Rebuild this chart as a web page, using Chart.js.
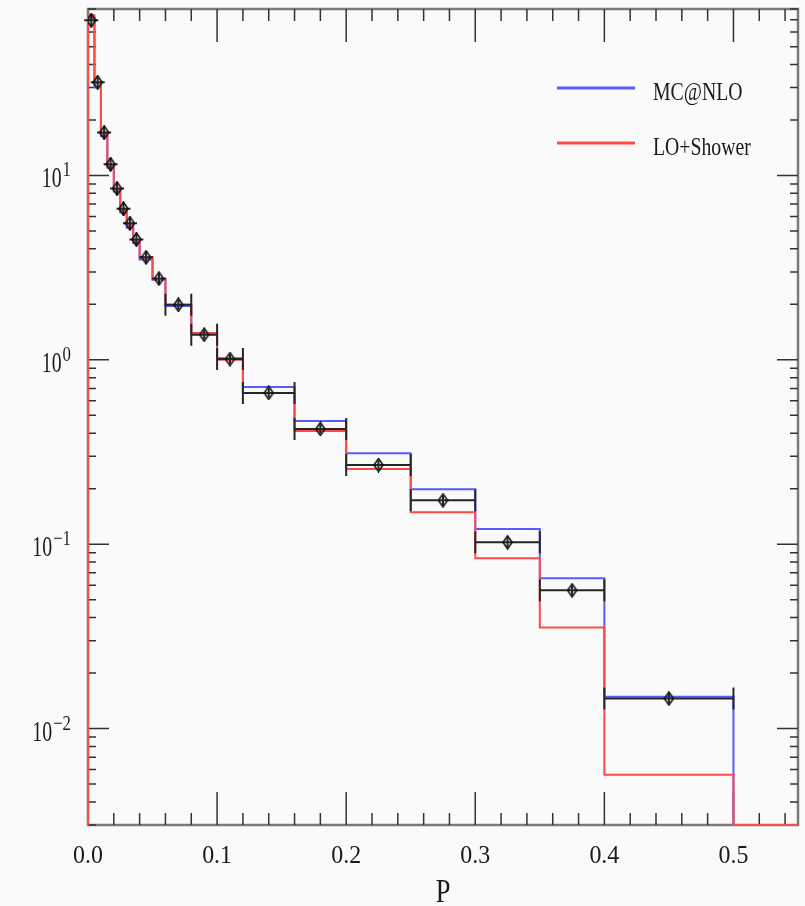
<!DOCTYPE html>
<html>
<head>
<meta charset="utf-8">
<script src="https://cdn.jsdelivr.net/npm/chart.js@4.4.1/dist/chart.umd.min.js"></script>
<style>
  body { margin: 0; background: #fafafa; }
</style>
</head>
<body>
<canvas id="myChart" width="805" height="906"></canvas>
<script>
// bin edges in P, and the per-bin values
var EDGES = [0, 0.005, 0.01, 0.015, 0.02, 0.025, 0.03, 0.035, 0.04, 0.05, 0.06,
             0.08, 0.1, 0.12, 0.16, 0.2, 0.25, 0.3, 0.35, 0.4, 0.5];
var DATA_Y = [69.5, 32, 17.1, 11.5, 8.5, 6.6, 5.5, 4.5, 3.6, 2.76, 1.99,
              1.37, 1.01, 0.662, 0.422, 0.269, 0.173, 0.1025, 0.0562, 0.01456];
var DATA_ERR = [0.09, 0.09, 0.09, 0.09, 0.09, 0.09, 0.09, 0.09, 0.08, 0.07, 0.06,
                0.06, 0.06, 0.06, 0.06, 0.06, 0.06, 0.06, 0.06, 0.06];
var MCNLO = [72, 30.1, 16.4, 11.0, 8.2, 6.3, 5.2, 4.3, 3.5, 2.72, 1.96,
             1.38, 1.02, 0.713, 0.466, 0.312, 0.199, 0.121, 0.0654, 0.0149];
var LOSHOWER = [74, 31.8, 16.9, 11.3, 8.4, 6.5, 5.4, 4.4, 3.6, 2.74, 1.99,
                1.40, 1.0, 0.662, 0.411, 0.256, 0.149, 0.0839, 0.0354, 0.00562];
var X_MAX = 0.55;
var Y_MIN = 0.003, Y_MAX = 80;
var X_TICKS = [0, 0.1, 0.2, 0.3, 0.4, 0.5];
var X_TICK_LABELS = ['0.0', '0.1', '0.2', '0.3', '0.4', '0.5'];
var Y_DECADES = [-2, -1, 0, 1];
var Y_EXP_LABELS = ['\u22122', '\u22121', '0', '1'];
var SERIES_NAMES = ['MC@NLO', 'LO+Shower'];
var BLUE = '#5a5aff', RED = '#ff4a4a', INK = '#262626';

function histPoints(vals) {
    var pts = [{x: EDGES[0], y: Y_MIN}];
    for (var i = 0; i < vals.length; i++) pts.push({x: EDGES[i], y: vals[i]});
    pts.push({x: EDGES[EDGES.length - 1], y: Y_MIN});
    pts.push({x: X_MAX, y: Y_MIN});
    return pts;
}

var dataPts = [];
for (var i = 0; i < DATA_Y.length; i++) {
    dataPts.push({x: (EDGES[i] + EDGES[i + 1]) / 2, y: DATA_Y[i]});
}

// open diamond marker
var diamond = document.createElement('canvas');
diamond.width = 11; diamond.height = 15;
(function () {
    var c = diamond.getContext('2d');
    c.strokeStyle = '#111';
    c.lineWidth = 1.6;
    c.beginPath();
    c.moveTo(5.5, 1); c.lineTo(10, 7.5); c.lineTo(5.5, 14); c.lineTo(1, 7.5);
    c.closePath();
    c.stroke();
})();

function drawText(ctx, str, x, y, size, align, sx) {
    ctx.save();
    ctx.translate(x, y);
    ctx.scale(sx, 1);
    ctx.font = size + 'px "Liberation Serif"';
    ctx.textAlign = align;
    ctx.textBaseline = 'alphabetic';
    ctx.fillStyle = '#1a1a1a';
    ctx.fillText(str, 0, 0);
    ctx.restore();
}
function textWidth(ctx, str, size, sx) {
    ctx.save();
    ctx.font = size + 'px "Liberation Serif"';
    var w = ctx.measureText(str).width * sx;
    ctx.restore();
    return w;
}

var framePlugin = {
    id: 'frame',
    beforeDraw: function (chart) {
        var ctx = chart.ctx;
        ctx.save();
        ctx.fillStyle = '#fafafa';
        ctx.fillRect(0, 0, chart.width, chart.height);
        ctx.restore();
    },
    beforeDatasetsDraw: function (chart) {
        var ctx = chart.ctx, a = chart.chartArea;
        var xs = chart.scales.x, ys = chart.scales.y;
        ctx.save();
        // frame
        ctx.strokeStyle = '#7a7a7a';
        ctx.lineWidth = 2.5;
        ctx.strokeRect(a.left, a.top, a.right - a.left, a.bottom - a.top);
        // ticks
        ctx.strokeStyle = '#333';
        ctx.lineWidth = 1.5;
        ctx.beginPath();
        for (var k = 1; k * 0.02 < X_MAX; k++) {
            var px = xs.getPixelForValue(k * 0.02);
            var len = (k % 5 === 0) ? 33 : 12;
            ctx.moveTo(px, a.bottom); ctx.lineTo(px, a.bottom - len);
            ctx.moveTo(px, a.top); ctx.lineTo(px, a.top + len);
        }
        for (var d = -3; d <= 1; d++) {
            for (var m = 1; m <= 9; m++) {
                var v = m * Math.pow(10, d);
                if (v < Y_MIN || v > Y_MAX) continue;
                var py = ys.getPixelForValue(v);
                var l = (m === 1) ? 21 : 8;
                ctx.moveTo(a.left, py); ctx.lineTo(a.left + l, py);
                ctx.moveTo(a.right, py); ctx.lineTo(a.right - l, py);
            }
        }
        ctx.stroke();
        ctx.restore();
    },
    afterDatasetDraw: function (chart, args) {
        if (args.index !== 1) return;
        // error bars of the data, over the histograms and under the markers
        var ctx = chart.ctx;
        var xs = chart.scales.x, ys = chart.scales.y;
        ctx.save();
        ctx.strokeStyle = INK;
        ctx.lineWidth = 2;
        ctx.beginPath();
        for (var i = 0; i < DATA_Y.length; i++) {
            var x0 = xs.getPixelForValue(EDGES[i]);
            var x1 = xs.getPixelForValue(EDGES[i + 1]);
            var xc = xs.getPixelForValue(dataPts[i].x);
            var yc = ys.getPixelForValue(DATA_Y[i]);
            if (x1 - x0 < 14) { x0 = xc - 7; x1 = xc + 7; }
            else {
                ctx.moveTo(x0, yc - 11); ctx.lineTo(x0, yc + 11);
                ctx.moveTo(x1, yc - 11); ctx.lineTo(x1, yc + 11);
            }
            ctx.moveTo(x0, yc); ctx.lineTo(x1, yc);
            ctx.moveTo(xc, ys.getPixelForValue(DATA_Y[i] * (1 + DATA_ERR[i])));
            ctx.lineTo(xc, ys.getPixelForValue(DATA_Y[i] / (1 + DATA_ERR[i])));
        }
        ctx.stroke();
        ctx.restore();
    },
    afterDraw: function (chart) {
        var ctx = chart.ctx, a = chart.chartArea;
        var xs = chart.scales.x, ys = chart.scales.y;
        // x tick labels
        for (var i = 0; i < X_TICKS.length; i++) {
            drawText(ctx, X_TICK_LABELS[i], xs.getPixelForValue(X_TICKS[i]), a.bottom + 38, 26, 'center', 0.92);
        }
        drawText(ctx, 'P', (a.left + a.right) / 2, a.bottom + 77, 33, 'center', 0.8);
        // y tick labels 10^k
        for (var j = 0; j < Y_DECADES.length; j++) {
            var py = ys.getPixelForValue(Math.pow(10, Y_DECADES[j]));
            var supW = textWidth(ctx, Y_EXP_LABELS[j], 21, 0.8);
            drawText(ctx, Y_EXP_LABELS[j], 71, py + 1, 21, 'right', 0.8);
            drawText(ctx, '10', 71 - supW - 1, py + 12, 30, 'right', 0.66);
        }
        // legend
        var cols = [BLUE, RED], ly = [88, 143];
        ctx.save();
        ctx.lineWidth = 3;
        for (var s = 0; s < 2; s++) {
            ctx.strokeStyle = cols[s];
            ctx.beginPath();
            ctx.moveTo(557, ly[s]); ctx.lineTo(635, ly[s]);
            ctx.stroke();
            drawText(ctx, SERIES_NAMES[s], 653, ly[s] + 12, 26, 'left', 0.76);
        }
        ctx.restore();
    }
};

var ctx = document.getElementById('myChart');
var myChart = new Chart(ctx, {
    type: 'line',
    data: {
        datasets: [
            {
                label: SERIES_NAMES[0],
                data: histPoints(MCNLO),
                stepped: 'before',
                borderColor: BLUE,
                borderWidth: 2,
                pointRadius: 0,
                fill: false,
                clip: false,
                order: 3
            },
            {
                label: SERIES_NAMES[1],
                data: histPoints(LOSHOWER),
                stepped: 'before',
                borderColor: RED,
                borderWidth: 2,
                pointRadius: 0,
                fill: false,
                clip: false,
                order: 2
            },
            {
                label: 'data',
                type: 'scatter',
                data: dataPts,
                showLine: false,
                pointStyle: diamond,
                pointRadius: 6,
                order: 1
            }
        ]
    },
    options: {
        responsive: false,
        animation: false,
        layout: { padding: { left: 88, right: 2, top: 9, bottom: 81 } },
        plugins: { legend: { display: false }, tooltip: { enabled: false } },
        scales: {
            x: { type: 'linear', min: 0, max: X_MAX, display: false },
            y: { type: 'logarithmic', min: Y_MIN, max: Y_MAX, display: false }
        }
    },
    plugins: [framePlugin]
});
</script>
</body>
</html>
